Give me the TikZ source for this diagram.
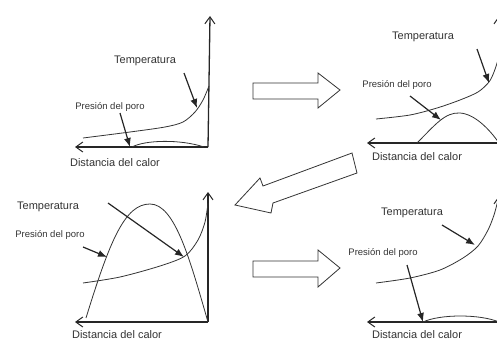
\documentclass[tikz,border=0pt]{standalone}
\usepackage{fontspec}
\setmainfont{Liberation Sans}
\usetikzlibrary{arrows.meta}
\begin{document}
\begin{tikzpicture}[x=1pt,y=-1pt,
  axis/.style={line width=1.3pt,draw=black!85,-{Straight Barb[length=7pt,width=10pt,line width=1pt]}},
  curve/.style={line width=0.8pt,draw=black!80},
  lab/.style={line width=1.2pt,draw=black!85,-{Latex[length=9pt,width=7pt]}},
  big/.style={text=black!80,font=\fontsize{11}{13}\selectfont,inner sep=0pt},
  small/.style={text=black!80,font=\fontsize{9.5}{11}\selectfont,inner sep=0pt},
  block/.style={line width=0.8pt,draw=black!80,fill=white,line join=miter}]
\useasboundingbox (0,0) rectangle (497,342);

% ---------- panel 1 (top left)
\coordinate (o1) at (208,147);
\coordinate (y1) at (210,16);
\coordinate (x1) at (75,147);
\draw[axis] (o1) -- (y1);
\draw[axis] (o1) -- (x1);
\draw[curve] plot[smooth] coordinates {(83,138) (130,132) (165,127) (183,122) (195,112) (203,100) (209,86)};
\draw[curve] (132,147) .. controls (145,140) and (180,139) .. (204,147);
\node[big] (t1) at (145,61) {Temperatura};
\node[small] (p1) at (110,107) {Presión del poro};
\node[big] (d1) at (115,163) {Distancia del calor};
\coordinate (t1s) at (184,73);
\coordinate (t1e) at (197,108);
\coordinate (p1s) at (120,113);
\coordinate (p1e) at (130,147);
\draw[lab] (t1s) -- (t1e);
\draw[lab] (p1s) -- (p1e);

% ---------- panel 2 (top right)
\coordinate (o2) at (499,143);
\coordinate (y2) at (499,16);
\coordinate (x2) at (367,143);
\draw[axis] (o2) -- (y2);
\draw[axis] (o2) -- (x2);
\draw[curve] plot[smooth] coordinates {(376,119) (410,115) (437,108) (460,100) (478,92) (489,82) (494,72) (498,60)};
\draw[curve] (417,143) .. controls (435,125) and (445,112) .. (460,113) .. controls (475,114) and (490,130) .. (499,143);
\node[big] (t2) at (423,37) {Temperatura};
\node[small] (p2) at (397,85) {Presión del poro};
\node[big] (d2) at (417,157) {Distancia del calor};
\coordinate (t2s) at (477,49);
\coordinate (t2e) at (489,83);
\coordinate (p2s) at (410,96);
\coordinate (p2e) at (441,120);
\draw[lab] (t2s) -- (t2e);
\draw[lab] (p2s) -- (p2e);

% ---------- panel 3 (bottom left)
\coordinate (o3) at (208,322);
\coordinate (y3) at (208,192);
\coordinate (x3) at (75,322);
\draw[axis] (o3) -- (y3);
\draw[axis] (o3) -- (x3);
\draw[curve] plot[smooth] coordinates {(83,283) (120,277) (160,266) (185,256) (198,240) (205,222) (208,203)};
\draw[curve] (86,318) .. controls (110,240) and (125,204) .. (150,204) .. controls (175,204) and (190,260) .. (208,322);
\node[big] (t3) at (48,207) {Temperatura};
\node[small] (p3) at (50,235) {Presión del poro};
\node[big] (d3) at (117,335) {Distancia del calor};
\coordinate (t3s) at (108,203);
\coordinate (t3e) at (184,257);
\coordinate (p3s) at (83,247);
\coordinate (p3e) at (107,257);
\draw[lab] (t3s) -- (t3e);
\draw[lab] (p3s) -- (p3e);

% ---------- panel 4 (bottom right)
\coordinate (o4) at (499,322);
\coordinate (y4) at (499,196);
\coordinate (x4) at (367,322);
\draw[axis] (o4) -- (y4);
\draw[axis] (o4) -- (x4);
\draw[curve] plot[smooth] coordinates {(376,283) (410,278) (440,270) (463,258) (478,246) (488,230) (494,215) (498,200)};
\draw[curve] (423,322) .. controls (440,314) and (480,314) .. (499,322);
\node[big] (t4) at (412,213) {Temperatura};
\node[small] (p4) at (383,253) {Presión del poro};
\node[big] (d4) at (417,335) {Distancia del calor};
\coordinate (t4s) at (442,225);
\coordinate (t4e) at (475,245);
\coordinate (p4s) at (407,265);
\coordinate (p4e) at (423,322);
\draw[lab] (t4s) -- (t4e);
\draw[lab] (p4s) -- (p4e);

% ---------- block arrows
\draw[block] (253,83) -- (318,83) -- (318,73) -- (340,90) -- (318,108) -- (318,99) -- (253,99) -- cycle;
\draw[block] (253,261) -- (318,261) -- (318,250) -- (340,268) -- (318,287) -- (318,277) -- (253,277) -- cycle;
\draw[block] (352,153) -- (357,173) -- (273,203) -- (271,213) -- (235,205) -- (260,178) -- (263,186) -- cycle;
\end{tikzpicture}
\end{document}
